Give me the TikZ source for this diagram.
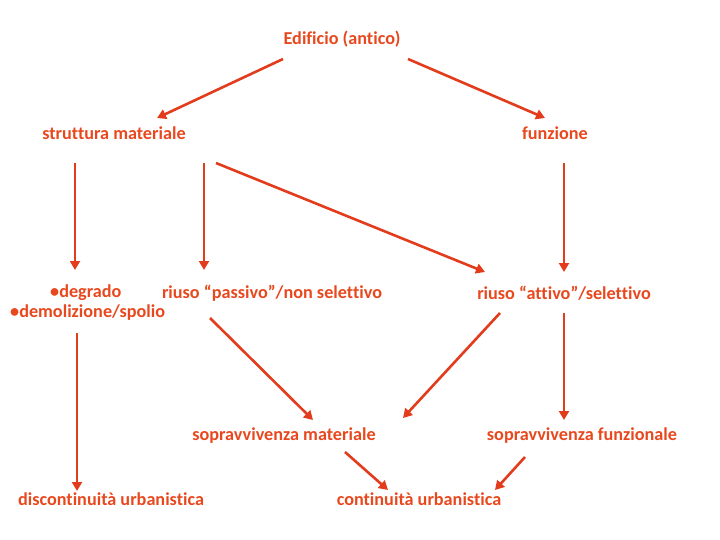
\documentclass[tikz,border=0pt]{standalone}
\usepackage{fontspec}
\setmainfont{Carlito}[Ligatures=NoCommon]
\usetikzlibrary{arrows.meta,calc}
\definecolor{ora}{RGB}{232,72,30}
\definecolor{arr}{RGB}{226,60,28}
\tikzset{
  lbl/.style={text=ora,font=\bfseries\fontsize{18.2}{21}\selectfont,inner sep=0pt},
  conn/.style={draw=arr,line width=2.6pt,-{Triangle[length=9pt,width=10pt]}}
}
\begin{document}
\begin{tikzpicture}[x=1pt,y=-1pt]
\useasboundingbox (0,0) rectangle (720,540);
\node[lbl] (ed) at (342,39) {Edificio (antico)};
\node[lbl] (sm) at (114,133) {struttura materiale};
\node[lbl] (fu) at (555,133) {funzione};
\node[lbl,anchor=west] (deg) at (50,293) {•degrado};
\node[lbl,anchor=west] (dem) at (10,313) {•demolizione/spolio};
\node[lbl] (rp) at (272,293) {riuso “passivo”/non selettivo};
\node[lbl] (ra) at (564,293) {riuso “attivo”/selettivo};
\node[lbl] (smat) at (284,436) {sopravvivenza materiale};
\node[lbl] (sf) at (582,436) {sopravvivenza funzionale};
\node[lbl] (disc) at (111,499) {discontinuità urbanistica};
\node[lbl] (cont) at (419,499) {continuità urbanistica};

\draw[conn] ($(ed.center)+(-59,20)$) -- ($(sm.center)+(43,-15)$);
\draw[conn] ($(ed.center)+(66,20)$) -- ($(fu.center)+(-10,-15)$);
\draw[conn] ($(sm.center)+(-39,30)$) -- ($(sm.center)+(-39,137)$);
\draw[conn] ($(sm.center)+(90,30)$) -- ($(rp.center)+(-68,-23)$);
\draw[conn] ($(sm.center)+(102,30)$) -- ($(ra.center)+(-79,-21)$);
\draw[conn] ($(fu.center)+(9,30)$) -- ($(ra.center)+(0,-21)$);
\draw[conn] ($(dem.west)+(67,20)$) -- ($(disc.center)+(-34,-8)$);
\draw[conn] ($(rp.center)+(-62,25)$) -- ($(smat.center)+(29,-16)$);
\draw[conn] ($(ra.center)+(-64,20)$) -- ($(smat.center)+(119,-18)$);
\draw[conn] ($(ra.center)+(0,20)$) -- ($(sf.center)+(-18,-16)$);
\draw[conn] ($(smat.center)+(61,16)$) -- ($(cont.center)+(-31,-9)$);
\draw[conn] ($(sf.center)+(-57,21)$) -- ($(cont.center)+(76,-9)$);
\end{tikzpicture}
\end{document}
